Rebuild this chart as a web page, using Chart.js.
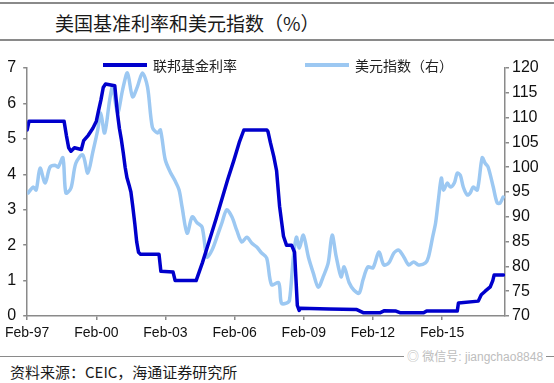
<!DOCTYPE html>
<html>
<head>
<meta charset="utf-8">
<script src="https://cdn.jsdelivr.net/npm/chart.js@4/dist/chart.umd.min.js"></script>
<style>
  body {
    margin: 0;
    width: 554px;
    height: 383px;
    position: relative;
    overflow: hidden;
    background: #fff;
    font-family: "Noto Sans CJK SC", sans-serif;
  }
  .rule { position: absolute; left: 0; width: 554px; background: #8a8a8a; }
  #title {
    position: absolute; left: 55px; top: 10px;
    font-size: 19px; line-height: 26px; color: #1a1a1a;
  }
  #trendChart { position: absolute; left: 0; top: 44px; }
  .legendItem {
    position: absolute; top: 55px; height: 20px;
    font-size: 14px; line-height: 20px; color: #222;
  }
  .legendLine { position: absolute; top: 8px; width: 44px; height: 4px; }
  .legendText { position: absolute; left: 50px; white-space: nowrap; }
  #watermark {
    position: absolute; left: 404px; top: 349px; padding: 0 3px;
    background: #fff; color: #bdbdbd; font-size: 12px; line-height: 16px;
    font-family: "Liberation Sans", "Noto Sans CJK SC", sans-serif;
  }
  #source {
    position: absolute; left: 10px; top: 361px;
    font-size: 15px; line-height: 22px; color: #1a1a1a;
  }
</style>
</head>
<body>
<div class="rule" style="top:2px;height:2px"></div>
<div id="title">美国基准利率和美元指数（%）</div>
<div class="rule" style="top:39px;height:2px"></div>

<canvas id="trendChart" width="554" height="310"></canvas>

<div class="legendItem" style="left:103px">
  <span class="legendLine" style="background:#0000cc"></span>
  <span class="legendText">联邦基金利率</span>
</div>
<div class="legendItem" style="left:305px">
  <span class="legendLine" style="background:#9cc8f2"></span>
  <span class="legendText">美元指数（右）</span>
</div>

<div class="rule" style="top:356px;height:1px"></div>
<div id="watermark">◎ 微信号: jiangchao8848</div>
<div id="source">资料来源：CEIC，海通证券研究所</div>

<script>
/*********************************************************************
 *                            CHART DATA
 * time is counted in years from Feb-97
 *********************************************************************/

const fedTime = [
  0, 0.08, 1.6, 1.7, 1.8, 1.9, 2.05, 2.35, 2.45, 2.65, 2.85, 3.0, 3.08,
  3.2, 3.3, 3.4, 3.8, 3.92, 4.0, 4.08, 4.17, 4.25, 4.33, 4.42, 4.5,
  4.58, 4.67, 4.75, 4.83, 4.92, 5.72, 5.8, 6.33, 6.42, 7.33, 7.6, 7.89,
  8.2, 8.45, 8.7, 8.97, 9.2, 9.4, 10.4, 10.45, 10.55, 10.7, 10.82,
  10.95, 11.05, 11.12, 11.25, 11.47, 11.6, 11.72, 11.8, 11.85, 13.1,
  14.3, 14.6, 15.3, 15.5, 16.0, 16.2, 17.2, 17.33, 18.66, 18.71, 19.57,
  19.7, 19.87, 20.09, 20.2, 20.26, 20.66
];
const fedRate = [
  5.25, 5.5, 5.5, 5.1, 4.75, 4.65, 4.75, 4.7, 4.95, 5.1, 5.3, 5.5, 5.75,
  6.1, 6.45, 6.55, 6.5, 5.7, 5.3, 5.0, 4.6, 4.2, 3.9, 3.7, 3.5,
  3.1, 2.6, 2.1, 1.8, 1.74, 1.74, 1.26, 1.24, 1.0, 1.0, 1.5, 2.1,
  2.75, 3.3, 3.85, 4.4, 4.9, 5.25, 5.25, 5.2, 4.9, 4.5, 4.1,
  3.1, 2.6, 2.25, 2.0, 2.0, 1.8, 0.3, 0.16, 0.22, 0.2,
  0.18, 0.09, 0.09, 0.15, 0.14, 0.09, 0.09, 0.14, 0.14, 0.37, 0.42,
  0.6, 0.7, 0.82, 1.0, 1.16, 1.16
];

const dxyTime = [
  0.04, 0.26, 0.39, 0.56, 0.78, 0.99, 1.21, 1.34, 1.55, 1.68, 1.9, 2.11,
  2.41, 2.63, 2.84, 3.06, 3.19, 3.36, 3.58, 3.71, 3.92, 4.14, 4.35, 4.57,
  4.78, 5.0, 5.22, 5.43, 5.65, 5.78, 5.99, 6.21, 6.42, 6.59, 6.72, 6.94,
  7.16, 7.37, 7.59, 7.8, 8.02, 8.23, 8.45, 8.66, 8.88, 9.09, 9.31, 9.53,
  9.74, 9.96, 10.17, 10.39, 10.6, 10.91, 11.03, 11.25, 11.38, 11.55,
  11.68, 11.81, 11.98, 12.2, 12.41, 12.63, 12.84, 13.06, 13.23, 13.41,
  13.62, 13.75, 13.97, 14.18, 14.4, 14.57, 14.78, 15.0, 15.26, 15.47,
  15.69, 15.91, 16.12, 16.34, 16.55, 16.77, 16.98, 17.28, 17.41, 17.59,
  17.72, 17.84, 17.97, 18.06, 18.23, 18.36, 18.53, 18.66, 18.79, 18.92,
  19.09, 19.22, 19.35, 19.53, 19.74, 19.87, 20.0, 20.22, 20.39, 20.52,
  20.65
];
const dxyValue = [
  94.8, 96.0, 95.4, 99.8, 96.8, 100.0, 100.4, 100.0, 101.9, 94.8, 95.8, 100.8,
  102.5, 98.8, 102.9, 107.5, 110.9, 106.9, 113.6, 116.2, 110.9, 115.6, 119.0, 114.2,
  116.2, 119.0, 116.2, 108.1, 106.9, 107.5, 101.5, 99.0, 97.2, 95.4, 92.0, 86.7,
  90.0, 88.8, 87.9, 81.9, 83.3, 85.9, 88.8, 91.4, 90.0, 87.3, 84.9, 85.9,
  84.7, 83.9, 82.7, 81.7, 76.3, 76.7, 72.6, 72.6, 73.2, 81.9,
  85.9, 83.7, 86.3, 81.9, 78.7, 75.8, 77.9, 80.7, 86.3, 81.9,
  77.9, 79.9, 76.7, 75.2, 74.6, 77.3, 79.9, 79.7, 82.9, 80.3,
  80.7, 82.7, 83.3, 81.9, 80.3, 80.9, 80.3, 80.7, 81.9, 85.9,
  88.8, 93.4, 97.8, 95.4, 96.8, 96.0, 96.8, 98.8, 98.4, 96.0,
  94.4, 94.8, 96.0, 95.4, 101.9, 100.8, 100.0, 96.0, 92.8, 92.8,
  94.0
];

const xTickStart = 97; // Feb-97 sits at time 0

/*********************************************************************
 *                            CHART CONFIG
 *********************************************************************/

function toPoints(times, values) {
  return times.map((t, i) => ({ x: t, y: values[i] }));
}

const axisColor = "#8a8a8a";
const tickFont = { family: "'Liberation Sans', Arial, sans-serif", size: 16 };

const fedDataset = {
  label: "联邦基金利率",
  data: toPoints(fedTime, fedRate),
  yAxisID: "y",
  borderColor: "#0000cc",
  borderWidth: 3.5,
  pointRadius: 0,
  tension: 0,
  borderJoinStyle: "round",
  borderCapStyle: "round",
};

const dxyDataset = {
  label: "美元指数（右）",
  data: toPoints(dxyTime, dxyValue),
  yAxisID: "y2",
  borderColor: "#9cc8f2",
  borderWidth: 3.5,
  pointRadius: 0,
  tension: 0.3,
  borderJoinStyle: "round",
  borderCapStyle: "round",
};

const trendConfig = {
  type: "line",
  data: { datasets: [fedDataset, dxyDataset] },
  options: {
    responsive: false,
    animation: false,
    devicePixelRatio: 1,
    layout: { padding: { top: 24, left: 0, right: 0, bottom: 0 } },
    plugins: { legend: { display: false }, tooltip: { enabled: false } },
    scales: {
      x: {
        type: "linear",
        min: 0,
        max: 20.73,
        border: { color: axisColor, width: 1.5 },
        grid: { drawOnChartArea: false, color: axisColor, tickLength: 4, lineWidth: 1.5 },
        ticks: {
          stepSize: 3,
          includeBounds: false,
          autoSkip: false,
          maxRotation: 0,
          padding: 5,
          color: "#111",
          font: { family: tickFont.family, size: 14 },
          callback: (v) => "Feb-" + String((xTickStart + Math.round(v)) % 100).padStart(2, "0"),
        },
        afterFit: (scale) => { scale.height = 38; },
      },
      y: {
        position: "left",
        min: 0,
        max: 7,
        border: { color: axisColor, width: 1.5 },
        grid: { drawOnChartArea: false, color: axisColor, tickLength: 4, lineWidth: 1.5 },
        ticks: { stepSize: 1, padding: 7, color: "#111", font: tickFont },
        afterFit: (scale) => { scale.width = 24; },
      },
      y2: {
        position: "right",
        min: 70,
        max: 120,
        border: { color: axisColor, width: 1.5 },
        grid: { drawOnChartArea: false, color: axisColor, tickLength: 4, lineWidth: 1.5 },
        ticks: { stepSize: 5, padding: 3, color: "#111", font: tickFont },
        afterFit: (scale) => { scale.width = 49; },
      },
    },
  },
};

/*********************************************************************
 *                            RENDER
 *********************************************************************/

const trendChart = new Chart(document.getElementById("trendChart"), trendConfig);
</script>
</body>
</html>
